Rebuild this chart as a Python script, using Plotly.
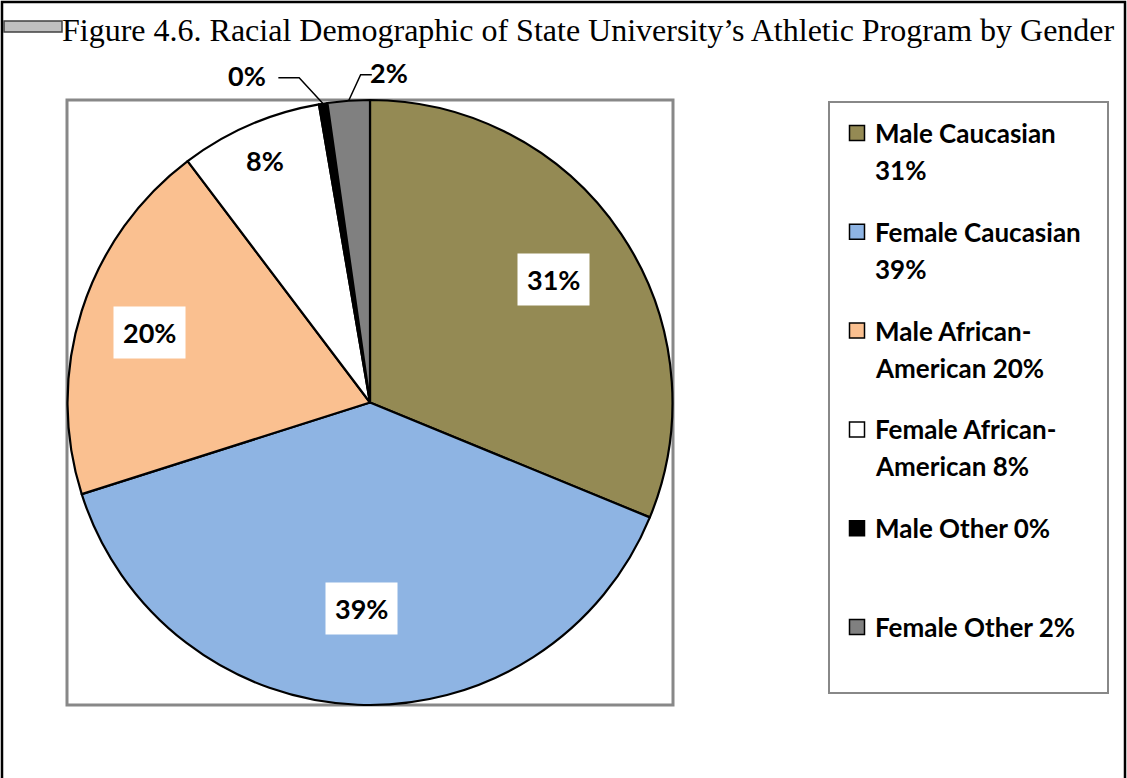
import math
import plotly.graph_objects as go

# data (percent of athletes)
groups = ['Male Caucasian', 'Female Caucasian', 'Male African-American',
          'Female African-American', 'Male Other', 'Female Other']
shares = [31.2, 38.9, 19.6, 7.6, 0.45, 2.25]
legend_lines = [['Male Caucasian', '31%'], ['Female Caucasian', '39%'],
                ['Male African-', 'American 20%'], ['Female African-', 'American 8%'],
                ['Male Other 0%'], ['Female Other 2%']]
colors = ['#948A54', '#8EB4E3', '#FAC090', '#FFFFFF', '#000000', '#808080']

title_text = 'Figure 4.6. Racial Demographic of State University’s Athletic Program by Gender'

W, H = 1127, 778

def px(x):
    return x / W

def py(y):
    return 1 - y / H

# pie box in pixels
PX0, PX1, PY0, PY1 = 67, 673, 100, 705
cx, cy = (PX0 + PX1) / 2, (PY0 + PY1) / 2
R = min(PX1 - PX0, PY1 - PY0) / 2

fig = go.Figure()
fig.add_trace(go.Pie(
    labels=groups,
    values=shares,
    sort=False,
    direction='clockwise',
    rotation=0,
    marker=dict(colors=colors, line=dict(color='black', width=2.2)),
    textinfo='none',
    hovertemplate='%{label}: %{percent}<extra></extra>',
    domain=dict(x=[px(PX0), px(PX1)], y=[py(PY1), py(PY0)]),
    showlegend=False,
))

total = sum(shares)
mids = []
acc = 0
for v in shares:
    mids.append((acc + v / 2) / total * 2 * math.pi)
    acc += v

annotations = []
shapes = []

# inside labels with white boxes
inside_frac = [0.73, 0.68, 0.765, 0.87]
for i, f in enumerate(inside_frac):
    a = mids[i]
    x = cx + f * R * math.sin(a)
    y = cy - f * R * math.cos(a)
    annotations.append(dict(
        x=px(x), y=py(y), xref='paper', yref='paper',
        text=f'{shares[i] / total * 100:.0f}%', showarrow=False,
        font=dict(family='Lato', size=27, color='black', weight='bold'),
        bgcolor='white', borderpad=9, xanchor='center', yanchor='middle'))

# outside labels with elbow leaders
outside = {4: (-76, -26, -24), 5: (40, -26, 12)}
for i, (tx, ty, ex) in outside.items():
    a = mids[i]
    x0 = cx + R * math.sin(a)
    y0 = cy - R * math.cos(a)
    x1 = x0 + ex
    y1 = y0 + ty
    xt = x0 + tx
    shapes.append(dict(type='path', xref='paper', yref='paper',
                       path=f'M {px(x0)},{py(y0)} L {px(x1)},{py(y1)} L {px(x1 + (xt - x1) * 0.4)},{py(y1)}',
                       line=dict(color='black', width=1.5)))
    annotations.append(dict(
        x=px(xt), y=py(y1 - 2), xref='paper', yref='paper',
        text=f'{shares[i] / total * 100:.0f}%', showarrow=False,
        font=dict(family='Lato', size=27, color='black', weight='bold'),
        xanchor='center', yanchor='middle'))

# legend
LX, LY, PITCH, LINE = 857, 133, 98.8, 37
for i, lines in enumerate(legend_lines):
    yc = LY + i * PITCH
    shapes.append(dict(type='rect', xref='paper', yref='paper',
                       x0=px(LX - 7.5), x1=px(LX + 7.5), y0=py(yc + 7.5), y1=py(yc - 7.5),
                       fillcolor=colors[i], line=dict(color='black', width=1.5)))
    for j, t in enumerate(lines):
        annotations.append(dict(
            x=px(LX + 16), y=py(yc + j * LINE), xref='paper', yref='paper',
            text=t, showarrow=False, xanchor='left', yanchor='middle',
            font=dict(family='Lato', size=26, color='black', weight='bold')))

# title
annotations.append(dict(
    x=px(60), y=py(30), xref='paper', yref='paper', text=title_text,
    showarrow=False, xanchor='left', yanchor='middle',
    font=dict(family='Liberation Serif', size=32, color='black')))

# frames
shapes += [
    dict(type='rect', xref='paper', yref='paper', x0=px(2), x1=px(1125), y0=py(790), y1=py(2),
         line=dict(color='black', width=2.5)),
    dict(type='rect', xref='paper', yref='paper', x0=px(PX0), x1=px(PX1), y0=py(PY1), y1=py(PY0),
         line=dict(color='#888888', width=3), layer='below'),
    dict(type='rect', xref='paper', yref='paper', x0=px(829), x1=px(1108), y0=py(693), y1=py(102),
         line=dict(color='#888888', width=2)),
    dict(type='rect', xref='paper', yref='paper', x0=px(4), x1=px(62), y0=py(32), y1=py(21),
         fillcolor='#C0C0C0', line=dict(color='#404040', width=1.5)),
]

fig.update_layout(
    width=W, height=H,
    margin=dict(l=0, r=0, t=0, b=0),
    paper_bgcolor='white',
    plot_bgcolor='white',
    annotations=annotations,
    shapes=shapes,
)

fig.write_html('out.html', config=dict(displayModeBar=False),
               post_script="document.body.style.margin='0';")
